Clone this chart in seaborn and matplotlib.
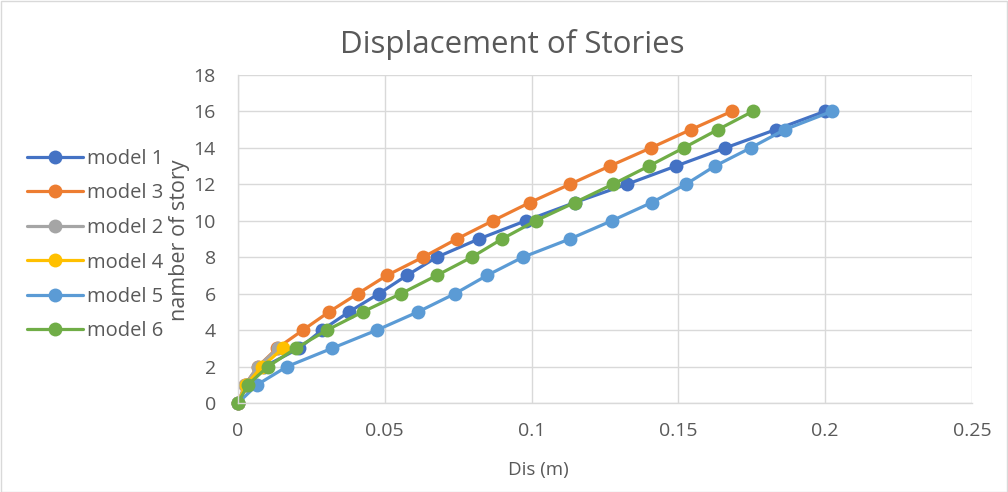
import matplotlib
matplotlib.use("Agg")
import matplotlib.pyplot as plt
from matplotlib.patches import Rectangle
import seaborn as sns

# Story displacement (m) per model, stories 0..16
stories = list(range(17))
model_1 = [0, 0.003, 0.009, 0.0208, 0.0286, 0.0378, 0.048, 0.0575, 0.0677,
           0.082, 0.098, 0.1147, 0.1324, 0.1491, 0.166, 0.1831, 0.1998]
model_3 = [0, 0.0024, 0.0068, 0.0133, 0.0221, 0.031, 0.0408, 0.0507, 0.063,
           0.0745, 0.0868, 0.0994, 0.113, 0.1266, 0.1406, 0.1542, 0.1681]
model_2 = [0, 0.0024, 0.0068, 0.0136]
model_4 = [0, 0.0027, 0.0082, 0.0153]
model_5 = [0, 0.0065, 0.0167, 0.032, 0.0473, 0.0613, 0.0739, 0.0848, 0.097,
           0.113, 0.1273, 0.1409, 0.1525, 0.1624, 0.1746, 0.1862, 0.2022]
model_6 = [0, 0.0034, 0.0102, 0.0197, 0.0303, 0.0425, 0.0555, 0.0677, 0.0796,
           0.0899, 0.1014, 0.1147, 0.1276, 0.1399, 0.1518, 0.1634, 0.1753]

series_names = ["model 1", "model 3", "model 2", "model 4", "model 5", "model 6"]
series_values = [model_1, model_3, model_2, model_4, model_5, model_6]
series_colors = ["#4472C4", "#ED7D31", "#A5A5A5", "#FFC000", "#5B9BD5", "#70AD47"]

x_ticks = [0, 0.05, 0.1, 0.15, 0.2, 0.25]
x_tick_labels = ["0", "0.05", "0.1", "0.15", "0.2", "0.25"]
y_ticks = list(range(0, 19, 2))

sns.set_theme(style="white")
plt.rcParams["font.family"] = ["Open Sans", "DejaVu Sans"]

TXT = "#595959"
W, H = 1008, 492
fig = plt.figure(figsize=(W / 100, H / 100), dpi=100)
fig.patches.append(Rectangle((0.001, 0.001), 0.998, 0.997, transform=fig.transFigure,
                             fill=False, edgecolor="#D9D9D9", linewidth=1))

ax = fig.add_axes([238 / W, 1 - 403 / H, (972 - 238) / W, (403 - 75) / H])

for name, vals, col in zip(series_names, series_values, series_colors):
    sns.lineplot(x=vals, y=stories[:len(vals)], ax=ax, color=col, linewidth=2.3,
                 marker="o", markersize=10, markeredgewidth=0, label=name,
                 sort=False, clip_on=False)

ax.set_xlim(0, 0.25)
ax.set_ylim(0, 18)
ax.set_xticks(x_ticks)
ax.set_xticklabels(x_tick_labels)
ax.set_yticks(y_ticks)
ax.grid(True, color="#D9D9D9", linewidth=1)
ax.set_axisbelow(True)
for s in ["top", "right"]:
    ax.spines[s].set_visible(False)
for s in ["left", "bottom"]:
    ax.spines[s].set_color("#D9D9D9")
    ax.spines[s].set_linewidth(1)
ax.tick_params(axis="both", length=0, labelsize=14, labelcolor=TXT)
ax.tick_params(axis="x", pad=14)
ax.tick_params(axis="y", pad=16)
ax.set_xlabel("")
ax.set_ylabel("")

fig.text(538 / W, 1 - 470 / H, "Dis (m)", ha="center", va="center",
         fontsize=13.5, color=TXT)
fig.text(180 / W, 1 - 240 / H, "namber of story", ha="center", va="center",
         rotation=90, fontsize=15.5, color=TXT)
fig.text(512 / W, 1 - 45 / H, "Displacement of Stories", ha="center", va="center",
         fontsize=22.5, color=TXT)

handles, labels = ax.get_legend_handles_labels()
ax.get_legend().remove()
fig.legend(handles, labels, loc="upper left", bbox_to_anchor=(27 / W, 1 - 149 / H),
           frameon=False, fontsize=14.5, labelcolor=TXT, handlelength=2.8,
           handletextpad=0.2, labelspacing=0.72, borderaxespad=0, borderpad=0)

fig.savefig("out.png", dpi=100)
